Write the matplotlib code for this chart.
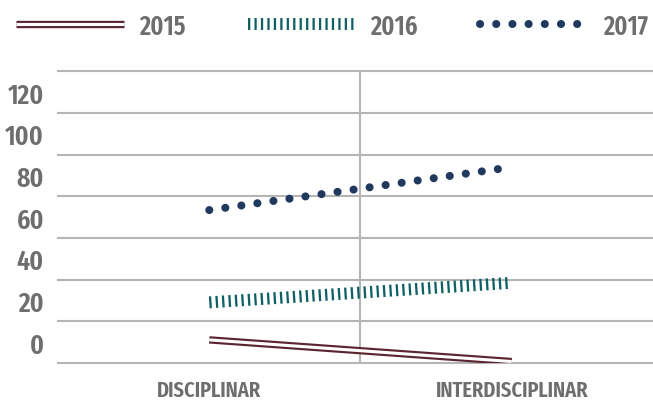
import os
import matplotlib
matplotlib.use('Agg')
import matplotlib.pyplot as plt
import matplotlib.patheffects as pe
import matplotlib.font_manager as fm

# dados
categorias = ['DISCIPLINAR', 'INTERDISCIPLINAR']
anos = ['2015', '2016', '2017']
valores_2015 = [11.1, 0.7]
valores_2016 = [29.1, 38.5]
valores_2017 = [73.4, 94.0]
rotulos_y = ['0', '20', '40', '60', '80', '100', '120']

# cores
cor_2015 = '#5b2632'
cor_2016 = '#0f6064'
cor_2017 = '#1f3a5e'
cor_texto = '#6e6e6e'
cor_grade = '#b5b5b5'


# procurar uma fonte estreita instalada (qualquer familia condensed / narrow)
def fonte_estreita():
    achadas = []
    for f in fm.fontManager.ttflist:
        nome = (f.name + ' ' + os.path.basename(f.fname)).lower()
        if 'condensed' in nome or 'narrow' in nome or 'cond-' in nome:
            if 'italic' in nome or 'oblique' in nome or f.style != 'normal':
                continue
            peso = f.weight if isinstance(f.weight, int) else 400
            extra = 0 if 'extra' in nome else 1
            achadas.append((extra, abs(peso - 600), f.fname))
    if not achadas:
        return None
    achadas.sort()
    return achadas[0][2]


caminho = fonte_estreita()

if caminho:
    tam_y, tam_x, tam_leg = 20, 16, 19
else:
    tam_y, tam_x, tam_leg = 13.5, 12, 14


def fp(tamanho):
    if caminho:
        return fm.FontProperties(fname=caminho, size=tamanho)
    return fm.FontProperties(family='DejaVu Sans', weight='bold', size=tamanho)


fig = plt.figure(figsize=(6.53, 4.02), dpi=100)
ax = fig.add_axes([58 / 653, 38 / 402, 605 / 653, 291.7 / 402])

x = range(len(categorias))

# 2015 - linha dupla
ax.plot(x, valores_2015, color='white', lw=2.2, solid_capstyle='butt',
        path_effects=[pe.Stroke(linewidth=5.3, foreground=cor_2015), pe.Normal()],
        label=anos[0], zorder=3)
# 2016 - tracos verticais
ax.plot(x, valores_2016, color=cor_2016, lw=8.6, dashes=(0.19, 0.35),
        dash_capstyle='butt', label=anos[1], zorder=3)
# 2017 - pontos
ax.plot(x, valores_2017, color=cor_2017, lw=5.8, dashes=(0.01, 2.0),
        dash_capstyle='round', label=anos[2], zorder=3)

# grade
for v in range(0, 141, 20):
    ax.axhline(v, color=cor_grade, lw=1.5, zorder=0, clip_on=False)
ax.axvline(0.5, color=cor_grade, lw=1.5, zorder=0)

ax.set_xlim(-0.5, 1.5)
ax.set_ylim(0, 140)
ax.set_xticks(list(x), categorias)
ax.set_yticks([10 + 20 * i for i in range(len(rotulos_y))], rotulos_y)
ax.tick_params(axis='y', length=0, pad=10, labelcolor=cor_texto)
ax.tick_params(axis='x', length=0, pad=11.5, labelcolor=cor_texto)
for t in ax.get_yticklabels():
    t.set_fontproperties(fp(tam_y))
for t in ax.get_xticklabels():
    t.set_fontproperties(fp(tam_x))
for s in ax.spines.values():
    s.set_visible(False)

px = tam_leg * 100 / 72
fig.legend(loc='center left', bbox_to_anchor=(16 / 653, 1 - 27 / 402), ncol=3,
           frameon=False, prop=fp(tam_leg), labelcolor=cor_texto,
           handlelength=108 / px, handletextpad=15 / px, columnspacing=62 / px,
           borderpad=0, borderaxespad=0)

fig.savefig('out.png', dpi=100)
